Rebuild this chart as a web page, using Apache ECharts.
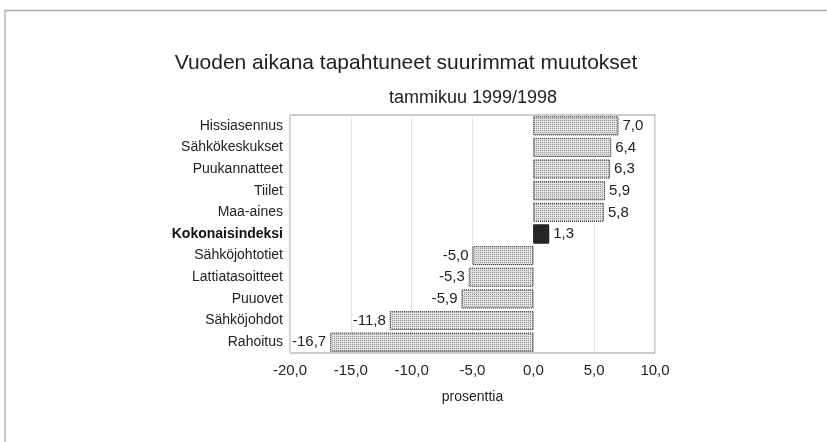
<!DOCTYPE html>
<html>
<head>
<meta charset="utf-8">
<script src="https://cdn.jsdelivr.net/npm/echarts@6/dist/echarts.min.js"></script>
<style>
  html, body { margin: 0; padding: 0; background: #fff; }
  #main { width: 827px; height: 442px; }
</style>
</head>
<body>
<div id="main"></div>
<script>
const categories = [
  "Hissiasennus", "Sähkökeskukset", "Puukannatteet", "Tiilet", "Maa-aines",
  "Kokonaisindeksi", "Sähköjohtotiet", "Lattiatasoitteet", "Puuovet",
  "Sähköjohdot", "Rahoitus"
];
const values = [7.0, 6.4, 6.3, 5.9, 5.8, 1.3, -5.0, -5.3, -5.9, -11.8, -16.7];
const totalName = "Kokonaisindeksi";

const font = '"Liberation Sans Narrow", "Liberation Sans", Arial, sans-serif';
const fmt = (v) => v.toFixed(1).replace(".", ",");

const chart = echarts.init(document.getElementById("main"));

const barData = values.map((v, i) => {
  const isTotal = categories[i] === totalName;
  const item = {
    value: v,
    label: { position: v >= 0 ? "right" : "left" }
  };
  if (isTotal) {
    item.itemStyle = {
      color: "#262626", borderColor: "#262626", borderType: "solid",
      decal: { symbol: "none", color: "rgba(0,0,0,0)" }
    };
  }
  return item;
});

const option = {
  animation: false,
  textStyle: { fontFamily: font },
  graphic: [
    { type: "line", shape: { x1: 4, y1: 10.5, x2: 827, y2: 10.5 }, style: { stroke: "#aaa", lineWidth: 1.5 } },
    { type: "line", shape: { x1: 5, y1: 10, x2: 5, y2: 442 }, style: { stroke: "#bbb", lineWidth: 1.5 } }
  ],
  title: [
    {
      text: "Vuoden aikana tapahtuneet suurimmat muutokset",
      left: 401, top: 48, textAlign: "center",
      textStyle: { fontFamily: font, fontSize: 21, fontWeight: "normal", color: "#222" }
    },
    {
      text: "tammikuu 1999/1998",
      left: 468, top: 84, textAlign: "center",
      textStyle: { fontFamily: font, fontSize: 18, fontWeight: "normal", color: "#222" }
    }
  ],
  grid: {
    left: 290, right: 172, top: 115, bottom: 89,
    show: true, borderColor: "#999", borderWidth: 1
  },
  xAxis: {
    type: "value",
    min: -20, max: 10, interval: 5,
    axisLine: { show: false },
    axisTick: { show: false },
    splitLine: { show: true, lineStyle: { color: "#e2e2e2", width: 1 } },
    axisLabel: {
      formatter: fmt, fontFamily: font, fontSize: 15, color: "#222", margin: 10
    },
    name: "prosenttia",
    nameLocation: "middle",
    nameGap: 37,
    nameTextStyle: { fontFamily: font, fontSize: 14, color: "#222" }
  },
  yAxis: {
    type: "category",
    data: categories,
    inverse: true,
    axisLine: { show: false },
    axisTick: { show: false },
    axisLabel: {
      fontFamily: font, fontSize: 14, color: "#222", margin: 7,
      formatter: (v) => v === totalName ? "{b|" + v + "}" : v,
      rich: { b: { fontFamily: font, fontSize: 14, fontWeight: "bold", color: "#111" } }
    }
  },
  series: [{
    type: "bar",
    data: barData,
    barCategoryGap: "12%",
    itemStyle: {
      color: "#e0e0e0",
      borderColor: "#555",
      borderWidth: 1,
      borderType: "dotted",
      decal: {
        symbol: "rect",
        symbolSize: 1,
        dashArrayX: [1, 1],
        dashArrayY: [1, 1],
        color: "rgba(60,60,60,0.45)"
      }
    },
    label: {
      show: true,
      formatter: (p) => fmt(p.value),
      fontFamily: font, fontSize: 15, color: "#222", distance: 4
    }
  }]
};

chart.setOption(option);
</script>
</body>
</html>
